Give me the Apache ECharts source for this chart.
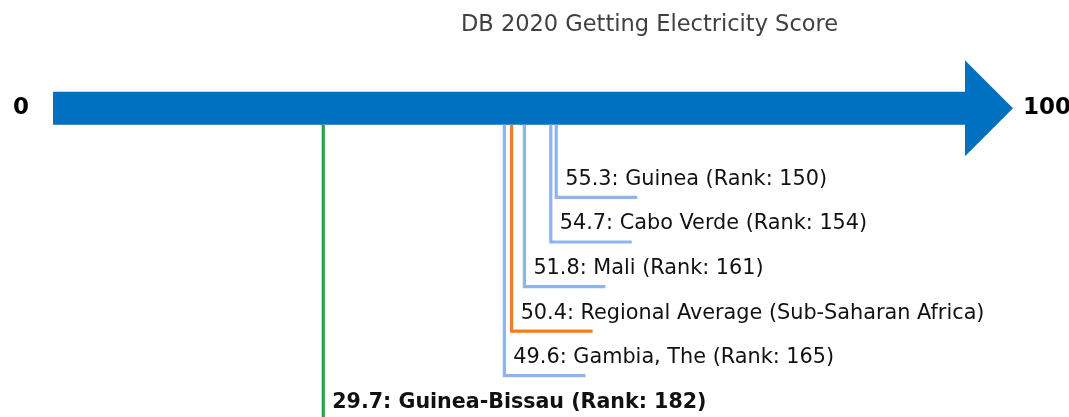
<!DOCTYPE html>
<html>
<head>
<meta charset="utf-8">
<script src="https://cdn.jsdelivr.net/npm/echarts@6/dist/echarts.min.js"></script>
<style>
    html, body { margin: 0; padding: 0; background: #fff; }
    #chart { width: 1069px; height: 417px; }
</style>
</head>
<body>
<div id="chart"></div>
<script>
(function () {

    var TITLE = 'DB 2020 Getting Electricity Score';
    var AXIS_MIN = 0;
    var AXIS_MAX = 100;

    // top to bottom, as listed under the arrow
    var NAMES = ['Guinea', 'Cabo Verde', 'Mali', 'Regional Average (Sub-Saharan Africa)', 'Gambia, The', 'Guinea-Bissau'];
    var SCORES = [55.3, 54.7, 51.8, 50.4, 49.6, 29.7];
    var RANKS = [150, 154, 161, null, 165, 182];
    var KINDS = ['peer', 'peer', 'peer', 'region', 'peer', 'focus'];

    var COLORS = { peer: '#8db4ee', region: '#ef7f22', focus: '#2aa447' };
    var ARROW_LEVEL = -2;

    var CHART = echarts.init(document.getElementById('chart'));

    //
    function labelText(i) {
        var txt = SCORES[i].toFixed(1) + ': ' + NAMES[i];
        if (RANKS[i] !== null) {
            txt += ' (Rank: ' + RANKS[i] + ')';
        }
        return txt;
    }

    //
    function renderArrow(params, api) {
        var start = api.coord([AXIS_MIN, ARROW_LEVEL]);
        var end = api.coord([AXIS_MAX, ARROW_LEVEL]);
        var cy = start[1];
        var half = 16.5;
        var headHalf = 48;
        var headLen = 48;
        var bx = end[0] + 2;

        return {
            type: 'group',
            children: [{
                type: 'polygon',
                shape: {
                    points: [
                        [start[0], cy - half], [bx, cy - half], [bx, cy - headHalf],
                        [bx + headLen, cy], [bx, cy + headHalf], [bx, cy + half],
                        [start[0], cy + half]
                    ]
                },
                style: { fill: '#0070c0' }
            }, {
                type: 'text',
                x: start[0] - 32,
                y: cy,
                style: {
                    text: String(AXIS_MIN), fill: '#000', align: 'center', verticalAlign: 'middle',
                    font: 'bold 23px "DejaVu Sans"'
                }
            }, {
                type: 'text',
                x: bx + headLen + 10,
                y: cy,
                style: {
                    text: String(AXIS_MAX), fill: '#000', align: 'left', verticalAlign: 'middle',
                    font: 'bold 23px "DejaVu Sans"'
                }
            }]
        };
    }

    //
    function renderLeader(params, api) {
        var i = api.value(2);
        var top = api.coord([api.value(0), ARROW_LEVEL]);
        var p = api.coord([api.value(0), api.value(1)]);
        var color = COLORS[KINDS[i]];
        var bold = KINDS[i] === 'focus';

        return {
            type: 'group',
            children: [{
                type: 'polyline',
                shape: { points: [[p[0], top[1] + 16.5], [p[0], p[1]], [p[0] + 81, p[1]]] },
                style: { stroke: color, lineWidth: 3.2, fill: null, lineJoin: 'miter' }
            }, {
                type: 'text',
                x: p[0] + 9,
                y: p[1] - 18,
                style: {
                    text: labelText(i), fill: '#111', align: 'left', verticalAlign: 'middle',
                    font: bold ? 'bold 20.6px "DejaVu Sans"' : '20.8px "DejaVu Sans"'
                }
            }]
        };
    }

    var leaderData = SCORES.map(function (s, i) {
        return [s, i, i];
    });

    CHART.setOption({
        animation: false,
        title: {
            text: TITLE,
            left: 456,
            top: 9,
            textStyle: { fontFamily: 'DejaVu Sans', fontSize: 22.5, fontWeight: 'normal', color: '#404040' }
        },
        grid: { left: 53, right: 106, top: 19.1, bottom: 19 },
        xAxis: { type: 'value', min: AXIS_MIN, max: AXIS_MAX, show: false },
        yAxis: { type: 'value', min: -4, max: 4.5, inverse: true, show: false },
        series: [{
            type: 'custom',
            renderItem: renderArrow,
            data: [[AXIS_MIN, ARROW_LEVEL]],
            clip: false,
            silent: true
        }, {
            type: 'custom',
            renderItem: renderLeader,
            data: leaderData,
            clip: false,
            silent: true
        }]
    });

}());
</script>
</body>
</html>
